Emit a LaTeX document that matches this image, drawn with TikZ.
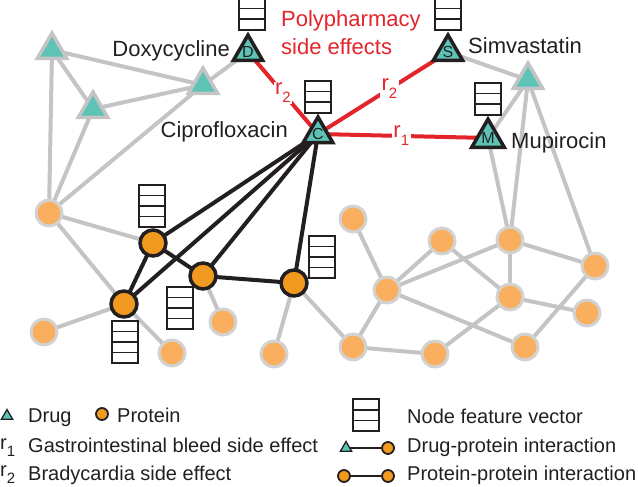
\documentclass[tikz,border=0pt]{standalone}
\usepackage{fontspec}
\setmainfont{Liberation Sans}
\usetikzlibrary{shapes.geometric,shapes.multipart}

\definecolor{drugteal}{RGB}{92,195,181}
\definecolor{edgegray}{RGB}{196,196,198}
\definecolor{protgray}{RGB}{210,210,210}
\definecolor{protlight}{RGB}{249,175,94}
\definecolor{protorange}{RGB}{242,153,32}
\definecolor{darkline}{RGB}{35,31,32}
\definecolor{sered}{RGB}{227,36,43}

\pgfdeclarelayer{bg}
\pgfsetlayers{bg,main}

\newcommand{\rlab}[1]{r\raisebox{-0.7ex}{\fontsize{15}{15}\selectfont #1}}

\begin{document}
\begin{tikzpicture}[x=1pt, y=-1pt,
	drug/.style   = {regular polygon, regular polygon sides=3, minimum size=34pt, inner sep=0pt, fill=drugteal, draw=edgegray, line width=3.5pt},
	qdrug/.style  = {drug, draw=darkline, text=darkline, font=\fontsize{16}{16}\selectfont},
	prot/.style   = {circle, minimum size=26pt, inner sep=0pt, fill=protlight, draw=protgray, line width=3pt},
	qprot/.style  = {prot, fill=protorange, draw=darkline, line width=3.5pt},
	kdrug/.style  = {drug, minimum size=13pt, line width=1.3pt, draw=darkline},
	kprot/.style  = {qprot, minimum size=12pt, line width=1.8pt},
	fvec/.style   = {rectangle split, rectangle split parts=#1, draw=darkline, line width=1.6pt, inner sep=0pt,
	                 rectangle split empty part height=9pt, rectangle split empty part depth=0pt, rectangle split empty part width=21pt},
	lbl/.style    = {font=\fontsize{22}{28}\selectfont, inner sep=0pt, text=darkline},
	leg/.style    = {font=\fontsize{20}{24}\selectfont, inner sep=0pt, text=darkline},
	rlbl/.style   = {lbl, fill=white, text=sered, inner sep=1.5pt},
	gedge/.style  = {draw=edgegray, line width=4pt},
	bedge/.style  = {draw=darkline, line width=4pt},
	redge/.style  = {draw=sered, line width=4pt}]

	\useasboundingbox (0,0) rectangle (638,487);

	% drugs
	\node[drug] (t1) at (52,50) {};
	\node[drug] (t2) at (93,109) {};
	\node[drug] (t3) at (203,85) {};
	\node[drug] (t4) at (528,80) {};
	\node[qdrug] (dox) at (248,52) {D};
	\node[qdrug] (sim) at (448,52) {S};
	\node[qdrug] (cip) at (318,134) {C};
	\node[qdrug] (mup) at (488,138) {M};

	% proteins
	\node[prot] (g1) at (49,213) {};
	\node[prot] (g2) at (44,332) {};
	\node[prot] (g3) at (172,353) {};
	\node[prot] (g4) at (223,322) {};
	\node[prot] (g5) at (274,354) {};
	\node[prot] (g6) at (353,219) {};
	\node[prot] (g7) at (353,347) {};
	\node[prot] (g8) at (442,241) {};
	\node[prot] (g9) at (510,240) {};
	\node[prot] (g10) at (595,266) {};
	\node[prot] (g11) at (387,290) {};
	\node[prot] (g12) at (510,297) {};
	\node[prot] (g13) at (587,313) {};
	\node[prot] (g14) at (435,354) {};
	\node[prot] (g15) at (525,347) {};
	\node[qprot] (pa) at (153,243) {};
	\node[qprot] (pb) at (124,304) {};
	\node[qprot] (pc) at (203,276) {};
	\node[qprot] (pd) at (294,283) {};

	% feature vectors
	\node[fvec=3] (vdox) at (252,14) {};
	\node[fvec=3] (vsim) at (448,14) {};
	\node[fvec=3] (vcip) at (318,97) {};
	\node[fvec=3] (vmup) at (488,99) {};
	\node[fvec=4] (vpa) at (152,206) {};
	\node[fvec=4] (vpb) at (125,342) {};
	\node[fvec=4] (vpc) at (180,308) {};
	\node[fvec=4] (vpd) at (322,257) {};

	% names
	\node[lbl, anchor=base east] (ldox) at (230,57) {Doxycycline};
	\node[lbl, anchor=base east] (lcip) at (288,137) {Ciprofloxacin};
	\node[lbl, anchor=base west] (lsim) at (468,54) {Simvastatin};
	\node[lbl, anchor=base west] (lmup) at (511,148) {Mupirocin};
	\node[lbl, anchor=base west, text=sered, align=left] (lpoly) at (281,55) {Polypharmacy\\side effects};

	% connectors
	\begin{pgfonlayer}{bg}
	\foreach \a/\b in {t1/t2, t1/t3, t2/t3, t3/dox, sim/t4, t1/g1, t2/g1, t3/g1, t4/mup, t4/g9, t4/g10, mup/g9,
		g1/pa, g1/pb, pb/g3, pb/g2, pc/g4, pd/g5, pd/g7,
		g6/g11, g11/g8, g11/g9, g11/g7, g11/g15, g8/g12, g9/g12, g9/g10, g12/g13, g12/g14, g10/g15, g7/g14}
	\draw[gedge] (\a.center) -- (\b.center);

	\foreach \a/\b in {cip/pa, cip/pb, cip/pc, cip/pd, pa/pb, pa/pc, pc/pd}
	\draw[bedge] (\a.center) -- (\b.center);

	\draw[redge] (dox.center) -- node[rlbl, pos=0.5] (r2a) {\rlab{2}} (cip.center);
	\draw[redge] (cip.center) -- node[rlbl, pos=0.55] (r2b) {\rlab{2}} (sim.center);
	\draw[redge] (cip.center) -- node[rlbl, pos=0.49] (r1a) {\rlab{1}} (mup.center);
	\end{pgfonlayer}

	% legend
	\node[kdrug] (kd1) at (7,416) {};
	\node[leg, anchor=base west] (tdrug) at (28,422) {Drug};
	\node[kprot] (kp1) at (102,414) {};
	\node[leg, anchor=base west] (tprot) at (117,422) {Protein};
	\node[leg, anchor=base west] (tr1) at (0,449) {\rlab{1}};
	\node[leg, anchor=base west] (tgas) at (28,452) {Gastrointestinal bleed side effect};
	\node[leg, anchor=base west] (tr2) at (0,476) {\rlab{2}};
	\node[leg, anchor=base west] (tbra) at (28,480) {Bradycardia side effect};

	\node[fvec=3] (kvec) at (366,415) {};
	\node[leg, anchor=base west] (tvec) at (407,423) {Node feature vector};
	\node[kdrug] (kd2) at (346,448) {};
	\node[kprot] (kp2) at (388,448) {};
	\node[leg, anchor=base west] (tdp) at (407,452) {Drug-protein interaction};
	\node[kprot] (kp3) at (344,476) {};
	\node[kprot] (kp4) at (388,476) {};
	\node[leg, anchor=base west] (tpp) at (407,480) {Protein-protein interaction};

	\begin{pgfonlayer}{bg}
	\draw[darkline, line width=1.6pt] (kd2.center) -- (kp2.center);
	\draw[darkline, line width=1.6pt] (kp3.center) -- (kp4.center);
	\end{pgfonlayer}

\end{tikzpicture}
\end{document}
